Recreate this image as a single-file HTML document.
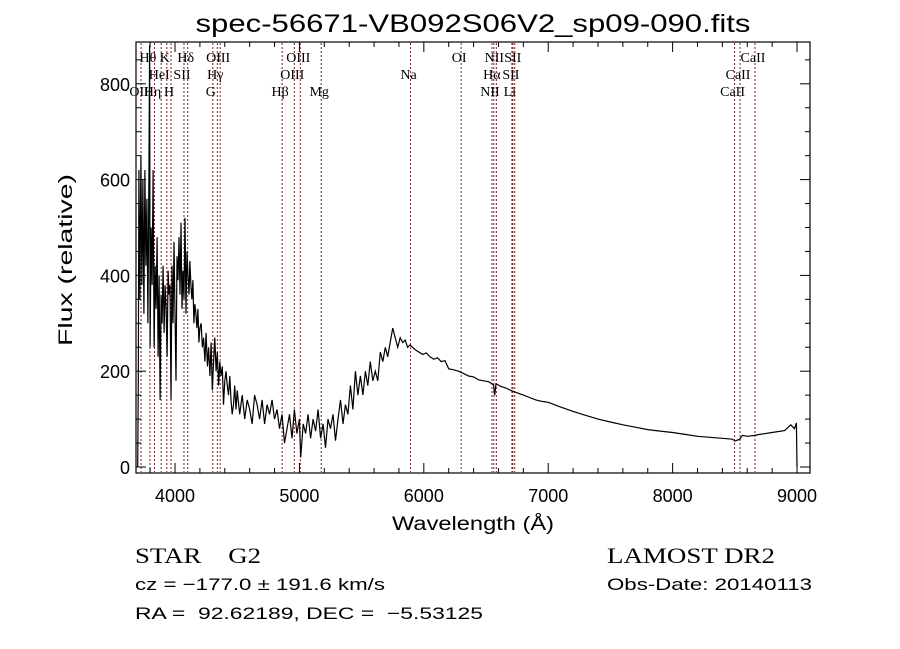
<!DOCTYPE html>
<html><head><meta charset="utf-8"><style>
html,body{margin:0;padding:0;background:#fff;}
svg{display:block;}
text{font-family:"Liberation Sans",sans-serif;fill:#000;white-space:pre;}
.ser{font-family:"Liberation Serif",serif;}
</style></head><body>
<svg id="chart" width="900" height="649" viewBox="0 0 900 649" xmlns="http://www.w3.org/2000/svg" xml:space="preserve">
<text x="473" y="32" font-size="25" text-anchor="middle" textLength="555" lengthAdjust="spacingAndGlyphs">spec-56671-VB092S06V2_sp09-090.fits</text>
<g id="lines"></g>
<g id="ticks"></g>
<path id="spec" fill="none" stroke="#000" stroke-width="1.2"/>
<rect x="136" y="42" width="674" height="431" fill="none" stroke="#000" stroke-width="1.2"/>
<text x="473" y="530" font-size="19" text-anchor="middle" textLength="162" lengthAdjust="spacingAndGlyphs">Wavelength (Å)</text>
<text x="0" y="0" font-size="19" text-anchor="middle" transform="translate(72,260) rotate(-90)" textLength="172" lengthAdjust="spacingAndGlyphs">Flux (relative)</text>
<text x="135" y="563" font-size="22" class="ser" textLength="126" lengthAdjust="spacingAndGlyphs">STAR    G2</text>
<text x="607" y="563" font-size="22" class="ser" textLength="168" lengthAdjust="spacingAndGlyphs">LAMOST DR2</text>
<text x="135" y="590" font-size="17" textLength="250" lengthAdjust="spacingAndGlyphs">cz = −177.0 ± 191.6 km/s</text>
<text x="607" y="590" font-size="17" textLength="205" lengthAdjust="spacingAndGlyphs">Obs-Date: 20140113</text>
<text x="135" y="619" font-size="17" textLength="348" lengthAdjust="spacingAndGlyphs">RA =  92.62189, DEC =  −5.53125</text>
</svg>
<script>
const xTicks=[4000,5000,6000,7000,8000,9000];
const yTicks=[0,200,400,600,800];
const lineWaves=[3727,3798,3835,3889,3934,3968,4072,4102,4304,4340,4363,4861,4959,5007,5175,5893,6300,6548,6563,6583,6708,6716,6731,8498,8542,8662];
const lineNames=["OII","Hθ","Hη","HeI","K","H","SII","Hδ","G","Hγ","OIII","Hβ","OIII","OIII","Mg","Na","OI","NII","Hα","NII","Li","SII","SII","CaII","CaII","CaII"];
const lineRows=[2,0,2,1,0,2,1,0,2,1,0,2,1,0,2,1,0,2,1,0,2,1,0,2,1,0];
const wave=[3700,3705,3710,3718,3726,3734,3742,3750,3758,3766,3774,3782,3790,3796,3800,3808,3816,3824,3832,3840,3848,3856,3864,3872,3880,3888,3896,3904,3912,3920,3928,3936,3944,3952,3960,3968,3976,3984,3992,4000,4008,4016,4024,4032,4040,4048,4056,4064,4072,4080,4088,4096,4104,4112,4120,4128,4136,4144,4152,4160,4168,4176,4184,4192,4200,4210,4220,4230,4240,4250,4260,4270,4280,4290,4300,4310,4320,4330,4340,4350,4360,4370,4380,4390,4400,4410,4420,4430,4440,4450,4460,4470,4480,4490,4500,4520,4540,4560,4580,4600,4620,4640,4660,4680,4700,4720,4740,4760,4780,4800,4820,4840,4860,4880,4900,4920,4940,4960,4980,5000,5010,5030,5050,5070,5090,5110,5130,5150,5170,5190,5210,5230,5250,5270,5290,5310,5330,5350,5370,5390,5410,5430,5450,5470,5490,5510,5530,5550,5570,5590,5610,5630,5650,5670,5690,5710,5730,5750,5770,5790,5810,5830,5850,5870,5890,5910,5930,5960,5990,6020,6050,6080,6110,6140,6170,6200,6240,6280,6320,6360,6400,6440,6480,6520,6560,6570,6580,6620,6660,6700,6750,6800,6850,6900,6950,7000,7100,7200,7300,7400,7500,7600,7700,7800,7900,8000,8100,8200,8300,8400,8480,8500,8540,8560,8600,8660,8700,8800,8900,8950,8980,8995,9000];
const flux=[0,180,620,350,650,380,600,320,620,420,560,300,600,880,250,500,380,620,250,420,330,480,230,400,140,360,300,420,280,380,330,230,410,360,380,140,420,300,470,320,180,440,390,480,360,510,330,410,350,520,320,450,400,360,430,380,350,390,300,340,320,290,330,260,290,300,250,270,220,280,210,250,190,260,160,220,270,200,240,170,220,190,210,130,180,200,170,150,190,140,110,130,170,120,160,110,150,100,140,120,90,150,130,100,140,90,130,110,140,100,120,80,110,50,80,110,60,120,70,100,20,90,70,110,60,100,75,120,60,90,40,100,80,110,55,100,140,90,130,110,170,120,200,150,190,150,200,170,220,180,200,180,240,220,250,230,260,290,270,250,270,260,265,250,255,250,245,240,235,238,230,225,228,220,222,205,203,200,195,190,188,182,180,178,172,150,174,168,165,160,155,150,145,140,137,135,125,116,108,100,94,88,83,78,75,72,68,64,62,60,58,54,58,66,64,66,68,72,76,88,80,92,0];
const X=w=>137.7+(w-3700)*0.1244;
const Y=f=>467-f*0.479;
const NS="http://www.w3.org/2000/svg";
function mk(tag,attrs,parent){const e=document.createElementNS(NS,tag);for(const k in attrs)e.setAttribute(k,attrs[k]);parent.appendChild(e);return e;}
const lg=document.getElementById('lines');
const rowY=[62,79,96];
lineWaves.forEach((w,i)=>{
  const l=mk('line',{x1:X(w),x2:X(w),y1:43,y2:472,stroke:'#7a1f1f','stroke-width':1,'stroke-dasharray':'2,2'},lg);
  
  
  const t=mk('text',{x:X(w)-2,y:rowY[lineRows[i]],'font-size':14,'text-anchor':'middle',class:'ser'},lg);
  t.textContent=lineNames[i];
  
  
});
const tg=document.getElementById('ticks');
for(let w=3800;w<=9100;w+=200){
  const major=w%1000===0, len=major?10:5;
  mk('line',{x1:X(w),x2:X(w),y1:473,y2:473-len,stroke:'#000'},tg);
  mk('line',{x1:X(w),x2:X(w),y1:42,y2:42+len,stroke:'#000'},tg);
}
xTicks.forEach(w=>{
  const t=mk('text',{x:X(w),y:502,'font-size':18,'text-anchor':'middle'},tg);
  t.textContent=w;
  
  
});
for(let f=0;f<=850;f+=50){
  const major=f%200===0, len=major?10:5;
  mk('line',{x1:136,x2:136+len,y1:Y(f),y2:Y(f),stroke:'#000'},tg);
  mk('line',{x1:810,x2:810-len,y1:Y(f),y2:Y(f),stroke:'#000'},tg);
}
yTicks.forEach(f=>{
  const t=mk('text',{x:130,y:Y(f)+7,'font-size':18,'text-anchor':'end'},tg);
  t.textContent=f;
  
  
});
let d='';
wave.forEach((w,i)=>{d+=(i?'L':'M')+X(w).toFixed(1)+' '+Y(flux[i]).toFixed(1);});
document.getElementById('spec').setAttribute('d',d);
</script>
</body></html>
